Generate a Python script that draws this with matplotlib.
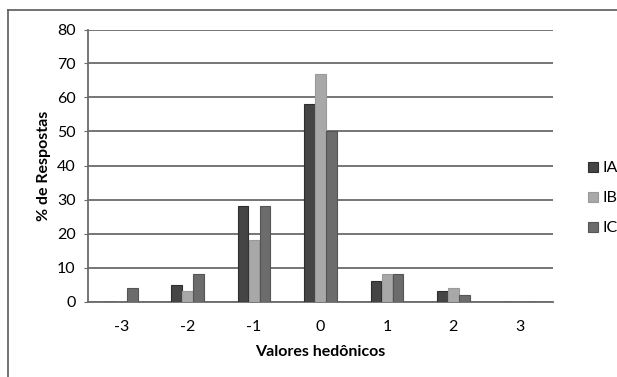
import numpy as np
import matplotlib
matplotlib.use("Agg")
import matplotlib.pyplot as plt
from matplotlib.lines import Line2D

plt.rcParams['font.family'] = ['Lato', 'DejaVu Sans']

categories = ["-3", "-2", "-1", "0", "1", "2", "3"]
ia = [0, 5, 28, 58, 6, 3, 0]
ib = [0, 3, 18, 67, 8, 4, 0]
ic = [4, 8, 28, 50, 8, 2, 0]
series_names = ["IA", "IB", "IC"]
colors = ["#454545", "#a8a8a8", "#6c6c6c"]
edges = ["#2e2e2e", "#9a9a9a", "#555555"]

W, H = 617, 377
fig = plt.figure(figsize=(W / 100, H / 100), dpi=100)
ax = fig.add_axes([88 / W, 1 - 301.5 / H, (553 - 88) / W, (301.5 - 29.5) / H])

x = np.arange(len(categories))
bw = 1 / 6
for i, (vals, c, e, name) in enumerate(zip([ia, ib, ic], colors, edges, series_names)):
    ax.bar(x + (i - 1) * bw, vals, width=bw * 0.96, color=c, edgecolor=e,
           linewidth=0.8, label=name, zorder=3)

ax.set_xlim(-0.5, len(categories) - 0.5)
ax.set_ylim(0, 80)
ax.set_yticks(np.arange(0, 81, 10))
ax.set_xticks(x)
ax.set_xticklabels(categories)
ax.yaxis.grid(True, color="#6a6a6a", linewidth=1.3, zorder=0)
ax.set_axisbelow(True)
for s in ["top", "right"]:
    ax.spines[s].set_visible(False)
ax.spines["left"].set_color("#6a6a6a")
ax.spines["left"].set_linewidth(1.3)
ax.spines["bottom"].set_color("#6a6a6a")
ax.spines["bottom"].set_linewidth(1.3)
ax.tick_params(axis="y", length=3, color="#6a6a6a", labelsize=11.5, pad=6)
ax.tick_params(axis="x", length=0, labelsize=11.5, pad=13)

ax.set_xlabel("Valores hedônicos", fontsize=11.5, fontweight="bold", labelpad=8)
ax.set_ylabel("% de Respostas", fontsize=11.5, fontweight="bold", labelpad=4)

leg = fig.legend(loc="upper left", bbox_to_anchor=(574 / W, 1 - 147 / H),
                 frameon=False, fontsize=11.5, handlelength=0.6, handleheight=0.6,
                 handletextpad=0.3, labelspacing=1.0)

# outer chart frame (left and top edges)
fig.add_artist(Line2D([8 / W, 8 / W], [0, 1 - 10 / H], transform=fig.transFigure,
                      color="#5a5a5a", linewidth=1.2))
fig.add_artist(Line2D([8 / W, 1], [1 - 10 / H, 1 - 10 / H], transform=fig.transFigure,
                      color="#5a5a5a", linewidth=1.2))

fig.savefig("out.png", dpi=100, facecolor="white")
